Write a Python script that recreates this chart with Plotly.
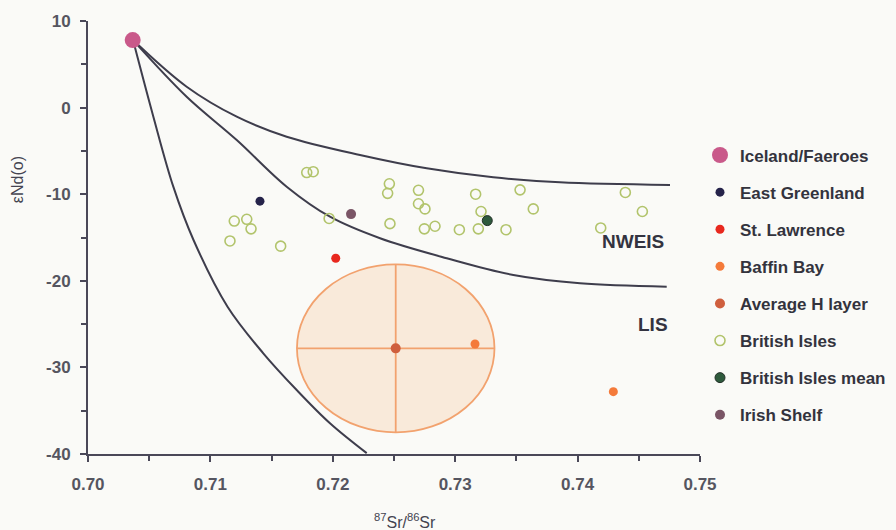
import plotly.graph_objects as go

# ---- data ----
iceland_x = [0.70365]
iceland_y = [7.8]

east_greenland_x = [0.71405]
east_greenland_y = [-10.8]

st_lawrence_x = [0.72024]
st_lawrence_y = [-17.4]

baffin_x = [0.73162, 0.74292]
baffin_y = [-27.3, -32.8]

avg_h_x = [0.72514]
avg_h_y = [-27.8]

british_x = [0.71787, 0.7184, 0.71195, 0.71297, 0.71332, 0.7116, 0.71574, 0.7197,
             0.72462, 0.72448, 0.7270, 0.7270, 0.72753, 0.72467, 0.72748, 0.72835,
             0.73034, 0.73167, 0.73211, 0.73189, 0.73415, 0.7353, 0.73638, 0.74189,
             0.7439, 0.74529]
british_y = [-7.5, -7.4, -13.1, -12.9, -14.0, -15.4, -16.0, -12.8,
             -8.8, -9.9, -9.55, -11.1, -11.7, -13.4, -14.0, -13.7,
             -14.1, -10.0, -12.0, -14.0, -14.1, -9.5, -11.7, -13.9,
             -9.8, -12.0]

british_mean_x = [0.73262]
british_mean_y = [-13.05]

irish_x = [0.72149]
irish_y = [-12.3]

# mixing curves
upper_x = [0.70368, 0.70806, 0.71215, 0.71623, 0.72222, 0.72767, 0.73311, 0.73856, 0.74755]
upper_y = [7.8, 2.41, -1.05, -3.36, -5.47, -7.01, -8.05, -8.63, -8.94]

middle_x = [0.70368, 0.70806, 0.71215, 0.71623, 0.71977, 0.72386, 0.72931, 0.73475, 0.74020, 0.74728]
middle_y = [7.8, 1.26, -3.74, -9.13, -12.6, -15.09, -17.40, -19.33, -20.29, -20.68]

lower_x = [0.70368, 0.70534, 0.70697, 0.70862, 0.71140, 0.71432, 0.71705, 0.71977, 0.72277]
lower_y = [7.8, -1.05, -9.13, -15.29, -22.99, -28.37, -32.61, -36.45, -39.9]

# error ellipse around the average H layer
ellipse_cx = 0.72514
ellipse_cy = -27.8
ellipse_rx = 0.00807
ellipse_ry = 9.7

region_labels = ["NWEIS", "LIS"]
region_x = [0.74455, 0.74613]
region_y = [-15.5, -25.1]

x_ticks = [0.70, 0.71, 0.72, 0.73, 0.74, 0.75]
y_ticks = [10, 0, -10, -20, -30, -40]

FONT = "Liberation Sans, Arial"

# ---- figure ----
fig = go.Figure()

curve_color = "#3e3d4c"
for cx, cy in [(upper_x, upper_y), (middle_x, middle_y), (lower_x, lower_y)]:
    fig.add_trace(go.Scatter(x=cx, y=cy, mode="lines",
                             line=dict(color=curve_color, width=2, shape="spline", smoothing=1.0),
                             showlegend=False, hoverinfo="skip"))

ell_line = "#f2a26e"
fig.add_shape(type="circle", xref="x", yref="y",
              x0=ellipse_cx - ellipse_rx, x1=ellipse_cx + ellipse_rx,
              y0=ellipse_cy - ellipse_ry, y1=ellipse_cy + ellipse_ry,
              fillcolor="#f9eada", line=dict(color=ell_line, width=1.8), layer="below")
fig.add_shape(type="line", xref="x", yref="y",
              x0=ellipse_cx - ellipse_rx, x1=ellipse_cx + ellipse_rx, y0=ellipse_cy, y1=ellipse_cy,
              line=dict(color=ell_line, width=1.8), layer="below")
fig.add_shape(type="line", xref="x", yref="y",
              x0=ellipse_cx, x1=ellipse_cx, y0=ellipse_cy - ellipse_ry, y1=ellipse_cy + ellipse_ry,
              line=dict(color=ell_line, width=1.8), layer="below")

series = [
    ("Iceland/Faeroes", iceland_x, iceland_y, dict(color="#c9598a", size=16, symbol="circle")),
    ("East Greenland", east_greenland_x, east_greenland_y, dict(color="#25234a", size=9, symbol="circle")),
    ("St. Lawrence", st_lawrence_x, st_lawrence_y, dict(color="#e8281e", size=9, symbol="circle")),
    ("Baffin Bay", baffin_x, baffin_y, dict(color="#f47a3a", size=9, symbol="circle")),
    ("Average H layer", avg_h_x, avg_h_y, dict(color="#cf5f3e", size=10, symbol="circle")),
    ("British Isles", british_x, british_y, dict(color="rgba(0,0,0,0)", size=10, symbol="circle",
                                                 line=dict(color="#b2c46c", width=1.6))),
    ("British Isles mean", british_mean_x, british_mean_y, dict(color="#2e5a3c", size=10, symbol="circle",
                                                               line=dict(color="#233028", width=1))),
    ("Irish Shelf", irish_x, irish_y, dict(color="#7a5566", size=10, symbol="circle")),
]
for i, (name, xs, ys, mk) in enumerate(series):
    fig.add_trace(go.Scatter(x=xs, y=ys, mode="markers", name=name, marker=mk, legendgroup=f"g{i}"))

for txt, tx, ty in zip(region_labels, region_x, region_y):
    fig.add_annotation(x=tx, y=ty, xref="x", yref="y", text=f"<b>{txt}</b>", showarrow=False,
                       font=dict(family=FONT, size=19, color="#333340"))

fig.add_annotation(x=-0.114, y=0.633, xref="paper", yref="paper", text="εNd(o)", textangle=-90,
                   xanchor="center", yanchor="middle",
                   showarrow=False, font=dict(family=FONT, size=16, color="#444450"))
fig.add_annotation(x=0.518, y=-0.155, xref="paper", yref="paper",
                   xanchor="center", yanchor="middle",
                   text="<sup>87</sup>Sr/<sup>86</sup>Sr", showarrow=False,
                   font=dict(family=FONT, size=16, color="#444450"))

axis_color = "#4a4858"
common = dict(showgrid=False, zeroline=False, showline=True, linecolor=axis_color, linewidth=2,
              ticks="outside", ticklen=6, tickwidth=1.5, tickcolor=axis_color, automargin=False,
              tickfont=dict(family=FONT, size=17, color="#555560", weight="bold"))
fig.update_xaxes(range=[0.70, 0.75], tickvals=x_ticks, ticktext=[f"{v:.2f}" for v in x_ticks],
                 minor=dict(ticks="outside", dtick=0.005, ticklen=5, tickcolor=axis_color, tickwidth=1.5),
                 ticklabelstandoff=8, **common)
fig.update_yaxes(range=[-40, 10], tickvals=y_ticks, ticktext=[str(v) for v in y_ticks],
                 minor=dict(ticks="outside", dtick=5, ticklen=5, tickcolor=axis_color, tickwidth=1.5),
                 ticklabelstandoff=6, **common)

fig.update_layout(
    width=896, height=530,
    margin=dict(l=88, r=196, t=21, b=76, autoexpand=False),
    paper_bgcolor="#fafaf7", plot_bgcolor="#fafaf7",
    legend=dict(x=1.0, y=0.731, xanchor="left", yanchor="top", tracegroupgap=12,
                bgcolor="rgba(0,0,0,0)",
                font=dict(family=FONT, size=17, color="#33333d", weight="bold")),
    font=dict(family=FONT),
)

fig.write_html("out.html", config={"displayModeBar": False},
               post_script="document.body.style.margin='0px';document.body.style.background='#fafaf7';")
